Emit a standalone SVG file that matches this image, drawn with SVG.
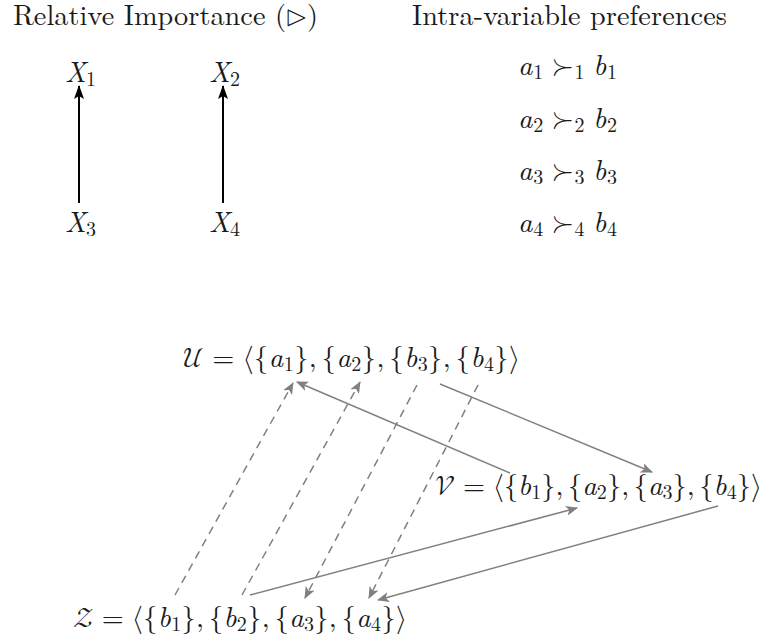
<svg xmlns="http://www.w3.org/2000/svg" width="767" height="641" viewBox="0 0 767 641">
<defs>
<style>
.t{font-family:'Latin Modern Roman','Liberation Serif',serif;font-size:28.3px;fill:#1a1a1a}
.i{font-style:italic}
.s{font-size:20px}
.m{font-family:'Latin Modern Math','STIX Two Math',serif}
.g{stroke:#808080;stroke-width:1.5;fill:none}
.d{stroke-dasharray:8,6}
.k{stroke:#000;stroke-width:2;fill:none}
</style>
<marker id="ga" viewBox="0 0 12 10" refX="11" refY="5" markerWidth="12" markerHeight="10" markerUnits="userSpaceOnUse" orient="auto">
<path d="M0,0 L12,5 L0,10 L3,5 Z" fill="#808080"/>
</marker>
<marker id="ka" viewBox="0 0 14 10" refX="13" refY="5" markerWidth="14" markerHeight="10" markerUnits="userSpaceOnUse" orient="auto">
<path d="M0,0 L14,5 L0,10 L3,5 Z" fill="#000"/>
</marker>
</defs>
<g id="titles">
<text class="t" x="13" y="25" textLength="305" lengthAdjust="spacing">Relative Importance (<tspan class="m">⊳</tspan>)</text>
<text class="t" x="412" y="25" textLength="315" lengthAdjust="spacing">Intra-variable preferences</text>
</g>
<g id="X1"><text class="t" x="65" y="82"><tspan class="i">X</tspan><tspan class="s" dy="4">1</tspan></text></g>
<g id="X2"><text class="t" x="209" y="82"><tspan class="i">X</tspan><tspan class="s" dy="4">2</tspan></text></g>
<g id="X3"><text class="t" x="65" y="232"><tspan class="i">X</tspan><tspan class="s" dy="4">3</tspan></text></g>
<g id="X4"><text class="t" x="209" y="232"><tspan class="i">X</tspan><tspan class="s" dy="4">4</tspan></text></g>
<g id="prefs">
<text class="t" x="518" y="75" textLength="99" lengthAdjust="spacing"><tspan class="i">a</tspan><tspan class="s" dy="4">1</tspan><tspan class="m" dy="-4" dx="7.8">≻</tspan><tspan class="s" dy="4">1</tspan><tspan class="i" dy="-4" dx="7.8">b</tspan><tspan class="s" dy="4">1</tspan></text>
<text class="t" x="518" y="127.5" textLength="99" lengthAdjust="spacing"><tspan class="i">a</tspan><tspan class="s" dy="4">2</tspan><tspan class="m" dy="-4" dx="7.8">≻</tspan><tspan class="s" dy="4">2</tspan><tspan class="i" dy="-4" dx="7.8">b</tspan><tspan class="s" dy="4">2</tspan></text>
<text class="t" x="518" y="180" textLength="99" lengthAdjust="spacing"><tspan class="i">a</tspan><tspan class="s" dy="4">3</tspan><tspan class="m" dy="-4" dx="7.8">≻</tspan><tspan class="s" dy="4">3</tspan><tspan class="i" dy="-4" dx="7.8">b</tspan><tspan class="s" dy="4">3</tspan></text>
<text class="t" x="518" y="232" textLength="99" lengthAdjust="spacing"><tspan class="i">a</tspan><tspan class="s" dy="4">4</tspan><tspan class="m" dy="-4" dx="7.8">≻</tspan><tspan class="s" dy="4">4</tspan><tspan class="i" dy="-4" dx="7.8">b</tspan><tspan class="s" dy="4">4</tspan></text>
</g>
<g id="U"><text class="t" x="183" y="367" textLength="337" lengthAdjust="spacing"><tspan class="m">𝒰</tspan><tspan dx="7.8">=</tspan><tspan class="m" dx="7.8">⟨</tspan>{<tspan class="i">a</tspan><tspan class="s" dy="4">1</tspan><tspan dy="-4">},</tspan><tspan dx="4.7">{</tspan><tspan class="i">a</tspan><tspan class="s" dy="4">2</tspan><tspan dy="-4">},</tspan><tspan dx="4.7">{</tspan><tspan class="i">b</tspan><tspan class="s" dy="4">3</tspan><tspan dy="-4">},</tspan><tspan dx="4.7">{</tspan><tspan class="i">b</tspan><tspan class="s" dy="4">4</tspan><tspan dy="-4">}</tspan><tspan class="m">⟩</tspan></text></g>
<g id="V"><text class="t" x="435" y="495" textLength="327" lengthAdjust="spacing"><tspan class="m">𝒱</tspan><tspan dx="7.8">=</tspan><tspan class="m" dx="7.8">⟨</tspan>{<tspan class="i">b</tspan><tspan class="s" dy="4">1</tspan><tspan dy="-4">},</tspan><tspan dx="4.7">{</tspan><tspan class="i">a</tspan><tspan class="s" dy="4">2</tspan><tspan dy="-4">},</tspan><tspan dx="4.7">{</tspan><tspan class="i">a</tspan><tspan class="s" dy="4">3</tspan><tspan dy="-4">},</tspan><tspan dx="4.7">{</tspan><tspan class="i">b</tspan><tspan class="s" dy="4">4</tspan><tspan dy="-4">}</tspan><tspan class="m">⟩</tspan></text></g>
<g id="Z"><text class="t" x="73" y="627" textLength="334" lengthAdjust="spacing"><tspan class="m">𝒵</tspan><tspan dx="7.8">=</tspan><tspan class="m" dx="7.8">⟨</tspan>{<tspan class="i">b</tspan><tspan class="s" dy="4">1</tspan><tspan dy="-4">},</tspan><tspan dx="4.7">{</tspan><tspan class="i">b</tspan><tspan class="s" dy="4">2</tspan><tspan dy="-4">},</tspan><tspan dx="4.7">{</tspan><tspan class="i">a</tspan><tspan class="s" dy="4">3</tspan><tspan dy="-4">},</tspan><tspan dx="4.7">{</tspan><tspan class="i">a</tspan><tspan class="s" dy="4">4</tspan><tspan dy="-4">}</tspan><tspan class="m">⟩</tspan></text></g>
<g id="connectors">
<line class="k" x1="79" y1="203" x2="79" y2="86" marker-end="url(#ka)"/>
<line class="k" x1="223" y1="203" x2="223" y2="86" marker-end="url(#ka)"/>
<line class="g d" x1="175" y1="595" x2="293" y2="383" marker-end="url(#ga)"/>
<line class="g d" x1="242" y1="595" x2="360" y2="382" marker-end="url(#ga)"/>
<line class="g d" x1="417" y1="385" x2="305" y2="598" marker-end="url(#ga)"/>
<line class="g d" x1="478" y1="385" x2="369" y2="598" marker-end="url(#ga)"/>
<line class="g" x1="510" y1="473" x2="297" y2="382" marker-end="url(#ga)"/>
<line class="g" x1="440" y1="384" x2="652" y2="472" marker-end="url(#ga)"/>
<line class="g" x1="250" y1="595" x2="577" y2="508" marker-end="url(#ga)"/>
<line class="g" x1="718" y1="506" x2="378" y2="600" marker-end="url(#ga)"/>
</g>
</svg>
